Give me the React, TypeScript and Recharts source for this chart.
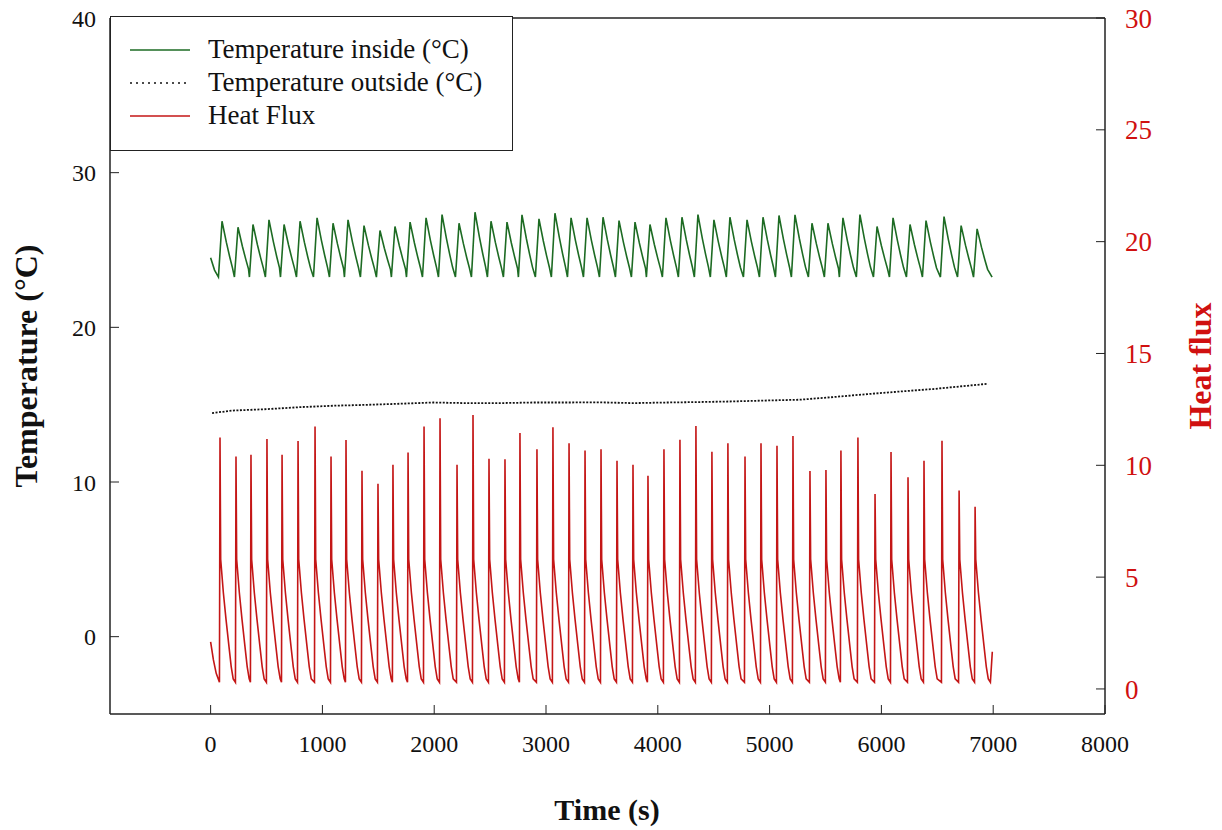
import React from 'react';
import { ComposedChart, Line, XAxis, YAxis, ReferenceLine, Label } from 'recharts';

// time (s) of each heat-flux spike
const cycleTimes = [
  84, 227, 361, 504, 639, 782, 934, 1077, 1211, 1354, 1497, 1631, 1766, 1909, 2052, 2204,
  2347, 2490, 2633, 2767, 2919, 3062, 3206, 3349, 3492, 3635, 3778, 3912, 4055, 4198, 4341, 4484,
  4627, 4780, 4923, 5066, 5209, 5361, 5504, 5638, 5790, 5943, 6086, 6238, 6381, 6542, 6695, 6838,
];

// heat flux at each spike
const fluxPeaks = [
  11.24, 10.39, 10.47, 11.18, 10.47, 11.09, 11.73, 10.39, 11.13, 9.76, 9.17, 10.02, 10.57, 11.73, 12.1, 10.02,
  12.25, 10.29, 10.27, 11.44, 10.72, 11.7, 10.99, 10.66, 10.72, 10.2, 10.02, 9.53, 10.72, 11.14, 11.76, 10.61,
  10.99, 10.39, 10.99, 10.87, 11.31, 9.75, 9.79, 10.66, 11.24, 8.72, 10.59, 9.47, 10.2, 11.1, 8.87, 8.15,
];

// inside temperature (°C) at the top of each cycle
const insidePeaks = [
  26.86, 26.47, 26.65, 26.95, 26.65, 26.86, 27.08, 26.73, 26.95, 26.58, 26.26, 26.52, 26.8, 27.08, 27.29, 26.73,
  27.44, 26.86, 26.8, 27.27, 27.01, 27.38, 27.08, 27.08, 27.12, 26.9, 26.8, 26.65, 27.08, 27.12, 27.29, 26.95,
  27.12, 26.95, 27.12, 27.23, 27.27, 26.73, 26.73, 27.08, 27.29, 26.52, 27.08, 26.65, 26.9, 27.16, 26.58, 26.37,
];
const insideTrough = 23.25;

// typical heat flux decay after a spike (seconds after spike, value)
const fluxDecayOffsets = [6, 30, 54, 80, 100, 118];
const fluxDecayValues = [5.8, 4.3, 3.1, 1.9, 1.0, 0.45];
const fluxTrough = 0.3;
const fluxStart = [[0, 2.1], [25, 1.3], [50, 0.7]];
const fluxEnd = [[6975, 0.3], [6992, 1.66]];

// inside temperature shape within a cycle (seconds after spike, share of the swing)
const insideOffsets = [-14, 18, 57, 87, 112];
const insideShare = [0, 1, 0.62, 0.36, 0.16];
const insideStart = [[0, 24.5], [35, 23.7]];
const insideEnd = [[6990, 23.25]];

// outside temperature (°C)
const outsideTimes = [
  13, 200, 504, 800, 1094, 1399, 1694, 1989, 2293, 2588, 2884, 3188, 3483, 3778, 4082, 4377,
  4672, 4976, 5272, 5567, 5871, 6166, 6462, 6766, 6954,
];
const outsideTemps = [
  14.46, 14.62, 14.71, 14.84, 14.93, 14.99, 15.06, 15.14, 15.1, 15.1, 15.14, 15.14, 15.15, 15.1, 15.14, 15.17,
  15.21, 15.27, 15.32, 15.49, 15.68, 15.85, 16.01, 16.22, 16.35,
];

const seriesNames = ['Temperature inside (°C)', 'Temperature outside (°C)', 'Heat Flux'];
const xTicks = [0, 1000, 2000, 3000, 4000, 5000, 6000, 7000, 8000];
const tempTicks = [0, 10, 20, 30, 40];
const fluxTicks = [0, 5, 10, 15, 20, 25, 30];

const GREEN = '#1d6b23';
const RED = '#c41616';
const FONT = '"Liberation Serif", "Times New Roman", serif';

const fluxData: { t: number; v: number }[] = [];
fluxStart.forEach(([t, v]) => fluxData.push({ t, v }));
cycleTimes.forEach((t0, i) => {
  fluxData.push({ t: t0 - 5, v: fluxTrough });
  fluxData.push({ t: t0, v: fluxPeaks[i] });
  fluxDecayOffsets.forEach((o, j) => fluxData.push({ t: t0 + o, v: fluxDecayValues[j] }));
});
fluxEnd.forEach(([t, v]) => fluxData.push({ t, v }));

const insideData: { t: number; v: number }[] = [];
insideStart.forEach(([t, v]) => insideData.push({ t, v }));
cycleTimes.forEach((t0, i) => {
  insideOffsets.forEach((o, j) =>
    insideData.push({ t: t0 + o, v: insideTrough + (insidePeaks[i] - insideTrough) * insideShare[j] })
  );
});
insideEnd.forEach(([t, v]) => insideData.push({ t, v }));

const outsideData = outsideTimes.map((t, i) => ({ t, v: outsideTemps[i] }));

const LegendBox = () => {
  const samples = [
    { color: GREEN, dash: undefined },
    { color: '#111', dash: '2 4' },
    { color: RED, dash: undefined },
  ];
  return (
    <div
      style={{
        position: 'absolute', left: 110, top: 16, width: 401, height: 133,
        border: '1.5px solid #222', background: '#fff', fontFamily: FONT,
      }}
    >
      {seriesNames.map((name, i) => (
        <div key={name} style={{ position: 'absolute', left: 19, top: 16 + i * 33, height: 33, display: 'flex', alignItems: 'center' }}>
          <svg width={60} height={4} style={{ marginRight: 18 }}>
            <line x1={0} y1={2} x2={60} y2={2} stroke={samples[i].color} strokeWidth={1.4} strokeDasharray={samples[i].dash} />
          </svg>
          <span style={{ fontSize: 27, color: '#111', whiteSpace: 'nowrap' }}>{name}</span>
        </div>
      ))}
    </div>
  );
};

export default function App() {
  return (
    <div style={{ position: 'absolute', left: 0, top: 0, width: 1222, height: 830, background: '#fff' }}>
      <ComposedChart width={1222} height={830} margin={{ top: 18, right: 0, bottom: 0, left: 0 }}>
        <XAxis
          type="number" dataKey="t" domain={[-900, 8000]} ticks={xTicks} allowDataOverflow interval={0}
          height={116} tickSize={-9} tickMargin={30}
          axisLine={{ stroke: '#222', strokeWidth: 1.5 }} tickLine={{ stroke: '#222' }}
          tick={{ fontFamily: FONT, fontSize: 24, fill: '#111' }}
        >
          <Label content={() => (
            <text x={607} y={820} textAnchor="middle" fontFamily={FONT} fontWeight="bold" fontSize={30} fill="#111">Time (s)</text>
          )} />
        </XAxis>
        <YAxis
          yAxisId="left" type="number" domain={[-5, 40]} ticks={tempTicks} allowDataOverflow interval={0}
          width={110} tickSize={-9} tickMargin={23}
          axisLine={{ stroke: '#222', strokeWidth: 1.5 }} tickLine={{ stroke: '#222' }}
          tick={{ fontFamily: FONT, fontSize: 24, fill: '#111' }}
        >
          <Label content={() => (
            <text x={26} y={366} transform="rotate(-90 26 366)" textAnchor="middle" dominantBaseline="central"
              fontFamily={FONT} fontWeight="bold" fontSize={32} fill="#111">Temperature (°C)</text>
          )} />
        </YAxis>
        <YAxis
          yAxisId="right" orientation="right" type="number" domain={[-1.12, 30]} ticks={fluxTicks} allowDataOverflow interval={0}
          width={117} tickSize={-9} tickMargin={29}
          axisLine={{ stroke: '#222', strokeWidth: 1.5 }} tickLine={{ stroke: '#222' }}
          tick={{ fontFamily: FONT, fontSize: 27, fill: '#d01010' }}
        >
          <Label content={() => (
            <text x={1200} y={366} transform="rotate(-90 1200 366)" textAnchor="middle" dominantBaseline="central"
              fontFamily={FONT} fontWeight="bold" fontSize={32} fill="#d01010">Heat flux</text>
          )} />
        </YAxis>
        <ReferenceLine yAxisId="left" y={40} stroke="#222" strokeWidth={1.5} />
        <Line yAxisId="right" data={fluxData} dataKey="v" name={seriesNames[2]} type="linear"
          stroke={RED} strokeWidth={1.6} dot={false} isAnimationActive={false} />
        <Line yAxisId="left" data={insideData} dataKey="v" name={seriesNames[0]} type="linear"
          stroke={GREEN} strokeWidth={1.6} dot={false} isAnimationActive={false} />
        <Line yAxisId="left" data={outsideData} dataKey="v" name={seriesNames[1]} type="linear"
          stroke="#111" strokeWidth={1.8} strokeDasharray="2 1.5" dot={false} isAnimationActive={false} />
      </ComposedChart>
      <LegendBox />
    </div>
  );
}
